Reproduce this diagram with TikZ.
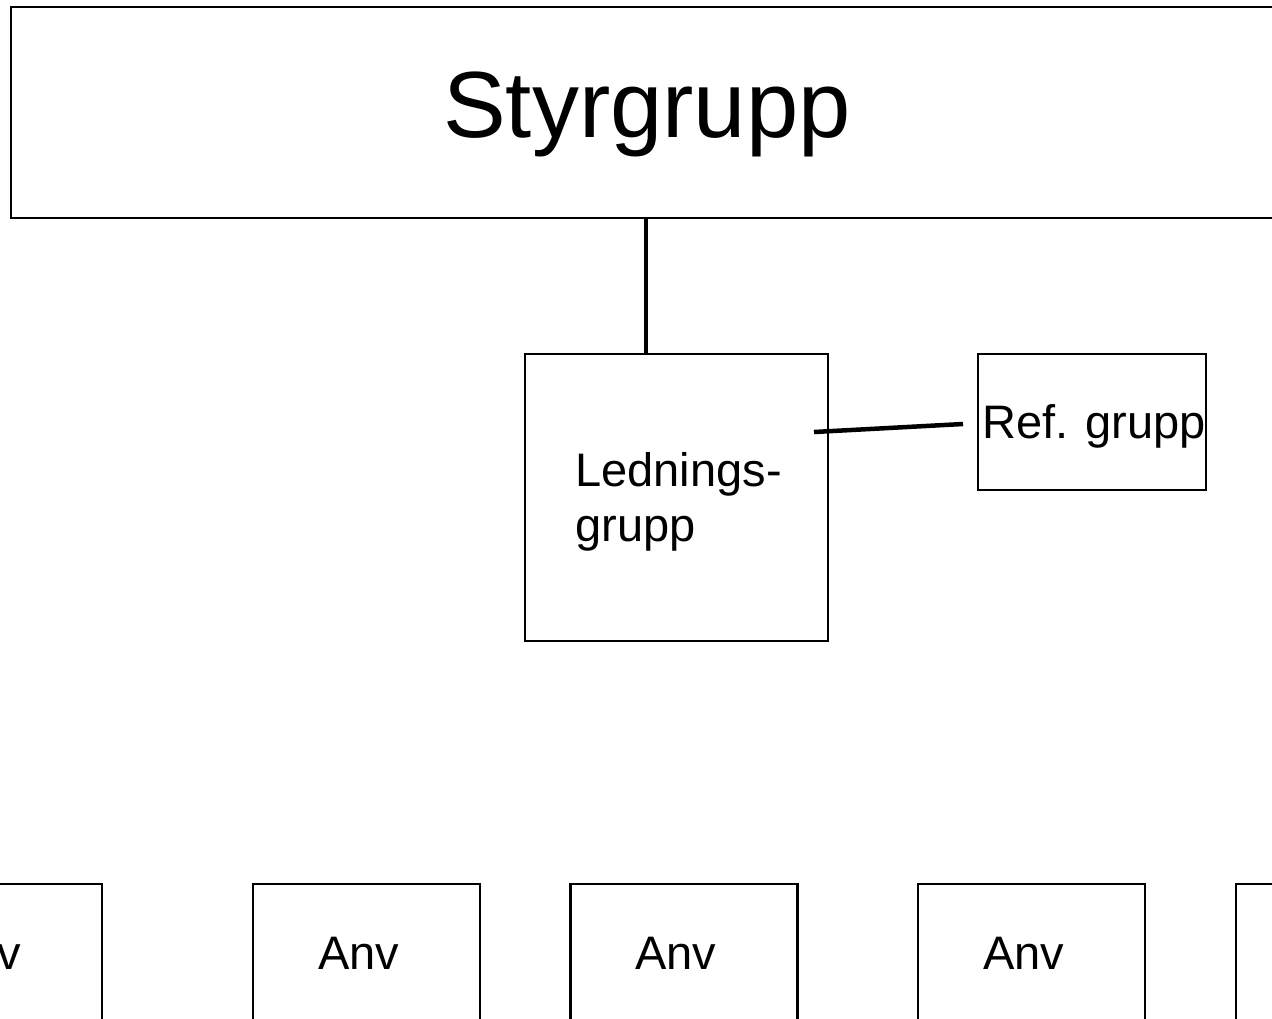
\documentclass[tikz,border=0pt]{standalone}
\usepackage{fontspec}
\setmainfont{Liberation Sans}
\begin{document}
\begin{tikzpicture}[x=1pt,y=-1pt,
  box/.style={draw=black,line width=2.6pt,fill=white,inner sep=0pt,outer sep=0pt},
  conn/.style={line width=4.5pt,black}]
\useasboundingbox (0,0) rectangle (1272,1018);
\clip (0,0) rectangle (1272,1018);
\fill[white] (0,0) rectangle (1272,1018);
% Styrgrupp
\node[box,minimum width=1272pt,minimum height=211pt,
  font=\fontsize{94}{110}\selectfont,text height=67.3pt,text depth=17.6pt]
  (styr) at (647,112.5) {Styrgrupp};
% Ledningsgrupp
\node[box,minimum width=303pt,minimum height=287pt,
  font=\fontsize{47}{55}\selectfont]
  (led) at (676.5,497.5)
  {\vtop{\baselineskip=55pt\hbox{\hspace{4pt}\rule{0pt}{42pt}Lednings-}\hbox{\hspace{4pt}grupp}}};
% Ref. grupp
\node[box,minimum width=228pt,minimum height=136pt,
  font=\fontsize{47}{55}\selectfont,text height=33.7pt,text depth=0pt]
  (ref) at (1092,422) {\hspace{4pt}Ref. grupp};
% Anv boxes
\foreach \i/\cx in {a1/-11.5,a2/366.5,a3/684,a4/1031.5,a5/1349.5}{
  \node[box,minimum width=227pt,minimum height=138pt,
    font=\fontsize{47}{55}\selectfont,align=left,text width=97pt,
    text height=33.7pt,text depth=0pt]
    (\i) at (\cx,953) {Anv};
}
% connectors
\coordinate (vx) at (646,0);
\draw[conn] (vx |- styr.south) -- (vx |- led.north);
\coordinate (la) at (814,432);
\coordinate (lb) at (963,424);
\draw[conn] (la) -- (lb);
\end{tikzpicture}
\end{document}
